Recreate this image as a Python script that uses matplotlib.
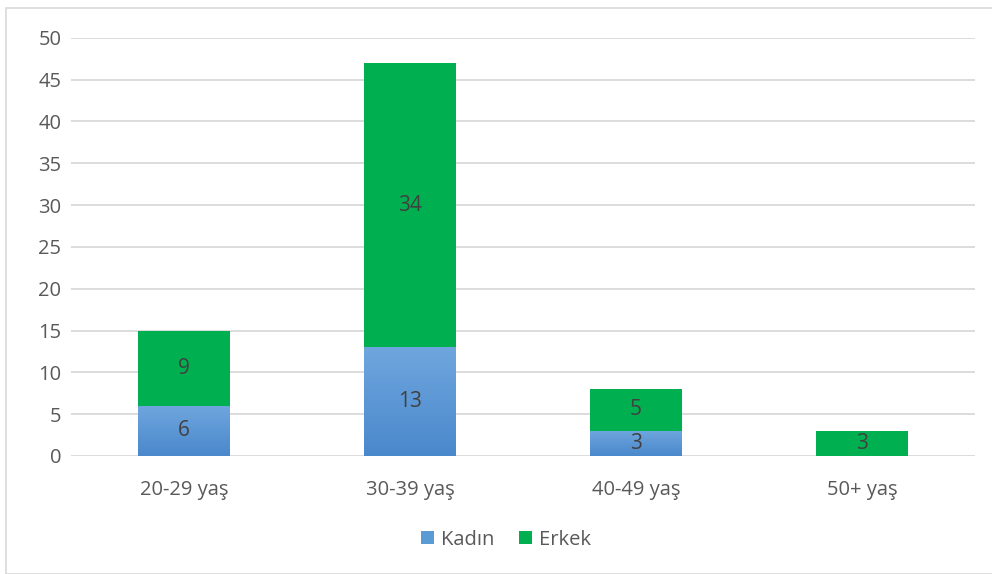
import numpy as np
import matplotlib.pyplot as plt
from matplotlib.patches import Rectangle
from matplotlib.colors import LinearSegmentedColormap

categories = ['20-29 yaş', '30-39 yaş', '40-49 yaş', '50+ yaş']
kadin = [6, 13, 3, 0]
erkek = [9, 34, 5, 3]

plt.rcParams['font.family'] = ['Open Sans', 'DejaVu Sans']

fig = plt.figure(figsize=(9.92, 5.74), dpi=100)
ax = fig.add_axes([0.0716, 0.2056, 0.9114, 0.7286])

x = np.arange(len(categories))
w = 0.405
green = '#00b050'
blue_cmap = LinearSegmentedColormap.from_list('kad', ['#4a88cc', '#6fa6de'])

# Erkek on top of Kadin
ax.bar(x, erkek, w, bottom=kadin, color=green, zorder=3, label='Erkek')

# Kadin bars with a vertical gradient
grad = np.linspace(0, 1, 256).reshape(-1, 1)
for xi, k in zip(x, kadin):
    if k == 0:
        continue
    rect = Rectangle((xi - w / 2, 0), w, k, facecolor='none', edgecolor='none', zorder=3)
    ax.add_patch(rect)
    im = ax.imshow(grad, cmap=blue_cmap, origin='lower', aspect='auto',
                   extent=(xi - w / 2, xi + w / 2, 0, k), zorder=3)
    im.set_clip_path(rect)

# value labels
for xi, k, e in zip(x, kadin, erkek):
    if k > 0:
        ax.text(xi, k / 2, str(k), ha='center', va='center', fontsize=15, color='#404040', zorder=5)
    ax.text(xi, k + e / 2, str(e), ha='center', va='center', fontsize=15, color='#404040', zorder=5)

ax.set_xlim(-0.5, 3.5)
ax.set_ylim(0, 50)
ax.set_yticks(range(0, 51, 5))
ax.set_xticks(x)
ax.set_xticklabels(categories)
ax.tick_params(axis='both', length=0, labelsize=14.5, colors='#595959')
ax.tick_params(axis='y', pad=7)
ax.tick_params(axis='x', pad=17)
ax.yaxis.grid(True, color='#d9d9d9', linewidth=1.3, zorder=0)
ax.set_axisbelow(True)
for s in ax.spines.values():
    s.set_visible(False)

handles = [Rectangle((0, 0), 1, 1, facecolor='#5b9bd5'), Rectangle((0, 0), 1, 1, facecolor=green)]
fig.legend(handles, ['Kadın', 'Erkek'], loc='center', bbox_to_anchor=(0.51, 0.06), ncol=2,
           frameon=False, fontsize=14.5, handlelength=0.65, handleheight=0.65,
           handletextpad=0.35, columnspacing=1.2, labelcolor='#595959')

# chart border
fig.patches.append(Rectangle((6 / 992, 0.0), 1.2, 1 - 8 / 574, transform=fig.transFigure,
                             facecolor='none', edgecolor='#d9d9d9', linewidth=1.2))

fig.savefig('out.png', dpi=100)
